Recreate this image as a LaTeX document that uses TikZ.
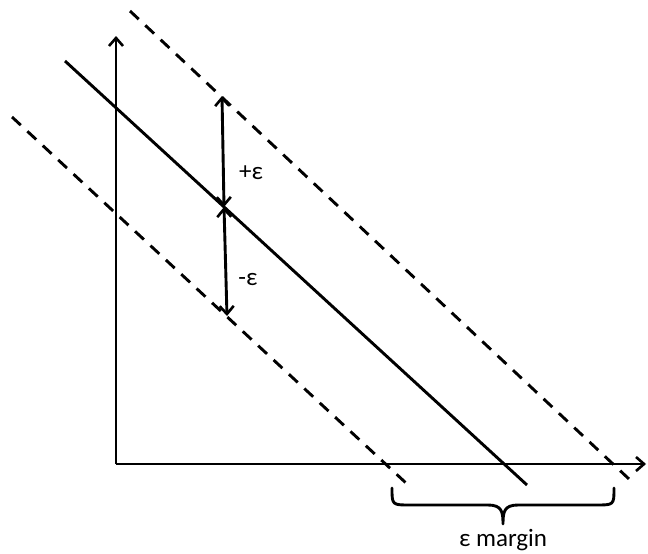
\documentclass[tikz,border=0pt]{standalone}
\usepackage{fontspec}
\setmainfont{Carlito}
\usetikzlibrary{arrows.meta}
\begin{document}
\begin{tikzpicture}[x=1pt,y=-1pt,
  ln/.style={line width=2.9pt},
  dsh/.style={line width=2.9pt,dash pattern=on 12pt off 9pt},
  tip/.style={-{Straight Barb[length=8pt,width=14pt,line width=2.6pt]}},
  dtip/.style={{Straight Barb[length=8pt,width=14pt,line width=2.6pt]}-{Straight Barb[length=8pt,width=14pt,line width=2.6pt]}},
  lbl/.style={font=\fontsize{25}{30}\selectfont, inner sep=0pt}]
\useasboundingbox (0,0) rectangle (648,554);
% axes
\coordinate (O) at (116,464);
\coordinate (Ytop) at (116,36);
\coordinate (Xend) at (646,464);
\draw[ln,tip] (O) -- (Ytop);
\draw[ln,tip] (O) -- (Xend);
% main line
\coordinate (S1) at (65,61);
\coordinate (S2) at (527,485);
\draw[ln] (S1) -- (S2);
% dashed lines
\coordinate (U1) at (130,11);
\coordinate (U2) at (629,479);
\draw[dsh] (U1) -- (U2);
\coordinate (L1) at (12,117);
\coordinate (L2) at (406,483);
\draw[dsh] (L1) -- (L2);
% epsilon arrows
\coordinate (A) at (222,96);
\coordinate (M) at (224,207);
\coordinate (B) at (227,316);
\draw[ln,dtip] (A) -- (M);
\draw[ln,dtip] (M) -- (B);
\node[lbl] (pe) at (251,173) {+ε};
\node[lbl] (me) at (248,280) {-ε};
% brace
\draw[line width=2.9pt,line cap=round,line join=round]
  (392,488) .. controls (392,505) and (392,505) .. (410,505) -- (488,505)
  .. controls (502,505) and (503,512) .. (503,524)
  .. controls (503,512) and (504,505) .. (518,505) -- (596,505)
  .. controls (614,505) and (614,505) .. (614,488);
\node[lbl] (em) at (503,540) {ε margin};
\end{tikzpicture}
\end{document}
